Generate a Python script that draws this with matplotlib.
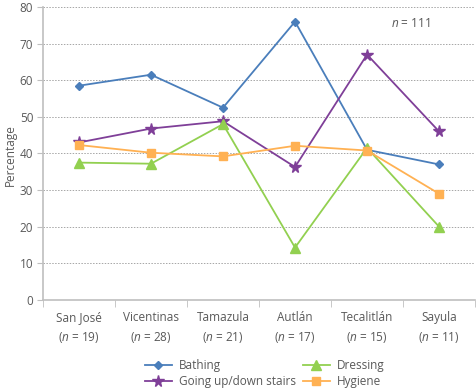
import matplotlib.pyplot as plt
import numpy as np

plt.rcParams['font.family'] = ['Open Sans', 'DejaVu Sans']
plt.rcParams['mathtext.fontset'] = 'custom'
plt.rcParams['mathtext.it'] = 'Open Sans:italic'
plt.rcParams['mathtext.rm'] = 'Open Sans'

places = ['San José', 'Vicentinas', 'Tamazula', 'Autlán', 'Tecalitlán', 'Sayula']
n_sizes = [19, 28, 21, 17, 15, 11]

bathing = [58.5, 61.5, 52.5, 76.0, 41.0, 37.0]
stairs = [43.0, 46.8, 48.8, 36.3, 67.0, 46.0]
dressing = [37.5, 37.2, 48.0, 14.3, 41.5, 20.0]
hygiene = [42.3, 40.2, 39.2, 42.1, 40.8, 29.0]

txt = '#595959'
fig = plt.figure(figsize=(4.77, 3.88), dpi=100)
ax = fig.add_axes([0.090, 0.227, 0.906, 0.755])

x = np.arange(len(places))
ax.plot(x, bathing, '-D', color='#4A7EBB', lw=1.3, ms=4.5, label='Bathing')
ax.plot(x, stairs, '-*', color='#7F3F98', lw=1.3, ms=8.5, label='Going up/down stairs')
ax.plot(x, dressing, '-^', color='#92D050', lw=1.3, ms=7.5, label='Dressing')
ax.plot(x, hygiene, '-s', color='#FFB153', lw=1.3, ms=5.5, label='Hygiene')

ax.set_xlim(-0.5, 5.5)
ax.set_ylim(0, 80)
ax.set_yticks(range(0, 81, 10))
ax.yaxis.grid(True, ls=(0, (1.5, 1.5)), color='#A6A6A6', lw=0.7)
ax.set_axisbelow(True)

labels = [p + '\n($\\it{n}$ = %d)' % s for p, s in zip(places, n_sizes)]
ax.set_xticks(x)
ax.set_xticklabels(labels, fontsize=8.5, color=txt, linespacing=1.5)
ax.set_xticks(np.arange(-0.5, 6.0, 1.0), minor=True)
ax.tick_params(axis='x', which='major', length=0, pad=8)
ax.tick_params(axis='x', which='minor', length=5, color='#BFBFBF', direction='out')
ax.tick_params(axis='y', labelsize=8.5, labelcolor=txt, length=4, color='#BFBFBF', pad=3)

for s in ['top', 'right']:
    ax.spines[s].set_visible(False)
for s in ['left', 'bottom']:
    ax.spines[s].set_color('#BFBFBF')
    ax.spines[s].set_linewidth(1.2)

fig.text(0.022, 0.60, 'Percentage', rotation=90, ha='center', va='center',
         fontsize=8.5, color=txt)
ax.text(4.33, 74.5, '$\\it{n}$ = 111', fontsize=8.5, color=txt)

fig.legend(loc='center', bbox_to_anchor=(0.555, 0.038), ncol=2, frameon=False,
           fontsize=8.5, labelcolor=txt, handlelength=2.3, columnspacing=0.6,
           labelspacing=0.25, handletextpad=0.6)

plt.savefig('out.png', dpi=100)
